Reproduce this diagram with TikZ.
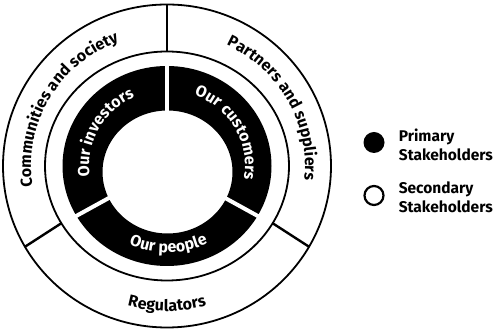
\documentclass[tikz,border=0pt]{standalone}
\usepackage{fontspec}
\setmainfont{Fira Sans}
\usepackage{tikz}
\usetikzlibrary{calc}
\usetikzlibrary{positioning}
\usetikzlibrary{decorations.text}
\def\ringtext[#1](#2:#3:#4:#5)#6{ \path[decorate, decoration={text along path, text align=center, text={|#1\fontsize{16}{16}\selectfont\bfseries|#6}}] ($(C)+(#2:#4 and #5)$) arc[start angle=#2, end angle=#3, x radius=#4, y radius=#5] }
\tikzstyle{ring} = [line width=1.8pt]
\tikzstyle{divider} = [line width=2.4pt]
\tikzstyle{gap} = [white, line width=4pt]
\tikzstyle{dot} = [circle, inner sep=0pt, minimum size=21pt]
\tikzstyle{legendtext} = [inner sep=0pt, align=left, font=\fontsize{15.5}{19}\selectfont\bfseries]

\begin{document}
\begin{tikzpicture}[x=1pt,y=1pt]
                        \useasboundingbox (0,0) rectangle (498,331);
                        \coordinate (C) at (167,165);
                        \coordinate (H) at (167.5,159);

                        \fill[even odd rule] (C) ellipse[x radius=104.5, y radius=100] (H) ellipse[x radius=65, y radius=61.5];
                        \draw[gap] (C) -- ($(C)+(90:108 and 103)$);
                        \draw[gap] (C) -- ($(C)+(210:108 and 103)$);
                        \draw[gap] (C) -- ($(C)+(330:108 and 103)$);

                        \draw[ring] (C) ellipse[x radius=122, y radius=114.5];
                        \draw[ring] (C) ellipse[x radius=164, y radius=161.5];

                        \draw[divider] ($(C)+(90:122 and 114.5)$) -- ($(C)+(90:164 and 161.5)$);
                        \draw[divider] ($(C)+(210:122 and 114.5)$) -- ($(C)+(210:164 and 161.5)$);
                        \draw[divider] ($(C)+(330:122 and 114.5)$) -- ($(C)+(330:164 and 161.5)$);

                        \ringtext[](210:90:136:133){Communities and society};
                        \ringtext[](89:-31:138:134){Partners and suppliers};
                        \ringtext[](200:340:150:145){Regulators};

                        \ringtext[\color{white}](211.5:91.5:78:76){Our investors};
                        \ringtext[\color{white}](89.5:-30.5:78:76){Our customers};
                        \ringtext[\color{white}](211:331:92:86.5){Our people};

                        \node[dot, fill=black] (primdot) at (374,188.5) {};
                        \node[legendtext, right=14pt of primdot, yshift=-2pt] (primlabel) {Primary\\Stakeholders};
                        \node[dot, draw, line width=2.2pt, minimum size=19pt] (secdot) at (374,135.5) {};
                        \node[legendtext, right=14pt of secdot, yshift=-2pt] (seclabel) {Secondary\\Stakeholders};
                    \end{tikzpicture}
\end{document}
